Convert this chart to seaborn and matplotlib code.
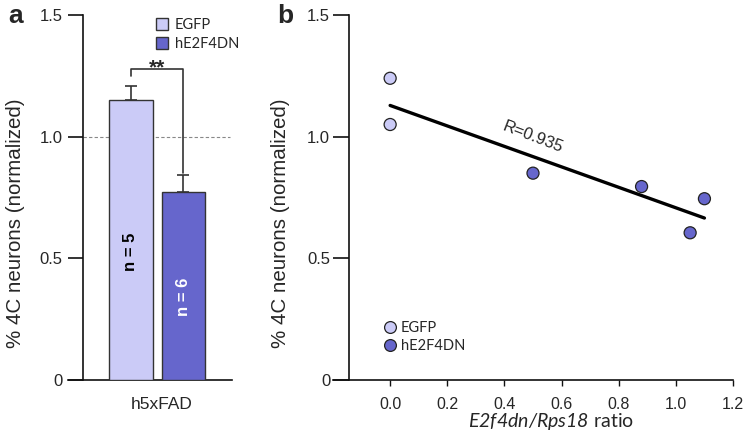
import numpy as np
import pandas as pd
import matplotlib
matplotlib.use("Agg")
import matplotlib.pyplot as plt
from matplotlib.patches import Patch
from matplotlib.lines import Line2D
import seaborn as sns

# データ
groups = ["EGFP", "hE2F4DN"]
bar_means = [1.152, 0.774]
bar_sem = [0.058, 0.070]
n_labels = ["n = 5", "n = 6"]
colors = ["#CBCBF7", "#6666CC"]

ratio_x = [0.0, 0.0, 0.50, 0.88, 1.05, 1.10]
neurons_y = [1.24, 1.05, 0.85, 0.795, 0.605, 0.745]
point_group = ["EGFP", "EGFP", "hE2F4DN", "hE2F4DN", "hE2F4DN", "hE2F4DN"]

y_ticks = [0, 0.5, 1.0, 1.5]
y_ticklabels = ["0", "0.5", "1.0", "1.5"]
x_ticks_b = [0.0, 0.2, 0.4, 0.6, 0.8, 1.0, 1.2]

sns.set_style("ticks")
plt.rcParams["font.family"] = ["Liberation Sans", "DejaVu Sans"]
# x軸ラベルの遺伝子名はイタリック
plt.rcParams["mathtext.fontset"] = "custom"
plt.rcParams["mathtext.it"] = "Lato:italic"
plt.rcParams["mathtext.rm"] = "Lato:italic"

palette = dict(zip(groups, colors))
edge = "#333333"

W, H = 749, 442
fig = plt.figure(figsize=(W / 100, H / 100), dpi=100)

def px_axes(x0, x1, y_top, y_bot):
    return fig.add_axes([x0 / W, 1 - y_bot / H, (x1 - x0) / W, (y_bot - y_top) / H])

# ---------- パネル a ----------
axa = px_axes(68, 232, 15, 380)
df_a = pd.DataFrame({"cond": ["h5xFAD"] * 2, "group": groups, "val": bar_means})
sns.barplot(data=df_a, x="cond", y="val", hue="group", palette=palette, saturation=1,
            errorbar=None, gap=0.17, edgecolor=edge, linewidth=1.0,
            legend=False, ax=axa, zorder=3)

centers = [p.get_x() + p.get_width() / 2 for p in axa.patches[:2]]
axa.errorbar(centers, bar_means, yerr=[[0, 0], bar_sem], fmt="none",
             ecolor=edge, elinewidth=1.2, capsize=4, capthick=1.2, zorder=2)

axa.set_xlim(-0.68, 0.57)
axa.set_ylim(0, 1.5)
axa.spines["left"].set_position(("data", -0.566))
axa.spines[["top", "right"]].set_visible(False)
for s in ["left", "bottom"]:
    axa.spines[s].set_linewidth(1.2)
    axa.spines[s].set_color("#111111")
axa.set_yticks(y_ticks, y_ticklabels)
axa.tick_params(axis="y", length=11, width=1.2, labelsize=12, pad=3.5, color="#111111")
axa.set_xticks([0.035], ["h5xFAD"])
axa.tick_params(axis="x", length=0, labelsize=12.5, pad=12)
axa.set_xlabel("")
axa.set_ylabel("% 4C neurons (normalized)", fontsize=14.8)
axa.yaxis.set_label_coords(-0.262, 0.43)

# 点線 (1.0)
axa.plot([-0.566, 0.554], [1.0, 1.0], color="#888888", lw=0.8, ls=(0, (3, 2)), zorder=1)

# n のラベル
axa.text(centers[0], 0.527, n_labels[0], rotation=90, ha="center", va="center",
         fontsize=12, fontweight="bold", color="black", zorder=4)
axa.text(centers[1], 0.342, n_labels[1], rotation=90, ha="center", va="center",
         fontsize=12, fontweight="bold", color="white", zorder=4)

# 有意差
axa.plot([centers[0], centers[0], centers[1], centers[1]], [1.25, 1.28, 1.28, 0.85],
         color=edge, lw=1.2, zorder=4)
axa.text(sum(centers) / 2, 1.26, "**", ha="center", va="baseline", fontsize=15, fontweight="bold")

axa.legend(handles=[Patch(facecolor=c, edgecolor=edge, lw=1.0, label=g) for g, c in zip(groups, colors)],
           loc="upper left", bbox_to_anchor=(156 / W, 1 - 18 / H), bbox_transform=fig.transFigure,
           frameon=False, borderpad=0, borderaxespad=0, handlelength=0.8, handleheight=0.8,
           handletextpad=0.5, labelspacing=0.35, prop={"family": "Lato", "size": 10.5})

# ---------- パネル b ----------
axb = px_axes(333, 733, 15, 380)
df_b = pd.DataFrame({"x": ratio_x, "y": neurons_y, "group": point_group})
sns.regplot(data=df_b, x="x", y="y", scatter=False, ci=None, color="black",
            line_kws={"lw": 2.4}, ax=axb)
sns.scatterplot(data=df_b, x="x", y="y", hue="group", palette=palette, s=75,
                edgecolor="#222222", linewidth=0.9, legend=False, ax=axb, zorder=3)

axb.set_xlim(-0.2, 1.2)
axb.set_ylim(0, 1.5)
axb.spines["left"].set_position(("data", -0.144))
axb.spines[["top", "right"]].set_visible(False)
for s in ["left", "bottom"]:
    axb.spines[s].set_linewidth(1.2)
    axb.spines[s].set_color("#111111")
axb.set_yticks(y_ticks, y_ticklabels)
axb.tick_params(axis="y", length=11.5, width=1.2, labelsize=12, pad=2, color="#111111")
axb.set_xticks(x_ticks_b, [f"{v:.1f}" for v in x_ticks_b])
axb.tick_params(axis="x", length=4.5, width=1.0, labelsize=11.5, pad=8, color="#111111")
axb.set_ylabel("% 4C neurons (normalized)", fontsize=14.8)
axb.yaxis.set_label_coords(-0.1075, 0.43)
axb.set_xlabel(r"$E2f4dn/Rps18$ ratio", fontsize=14, fontfamily="Lato")
axb.xaxis.set_label_coords(0.545, -0.085)

axb.text(0.5, 1.0, "R=0.935", rotation=-21, ha="center", va="center", fontsize=12)

axb.legend(handles=[Line2D([], [], marker="o", ls="", markersize=8.5, markerfacecolor=c,
                           markeredgecolor="#222222", markeredgewidth=0.9, label=g)
                    for g, c in zip(groups, colors)],
           loc="upper left", bbox_to_anchor=(383 / W, 1 - 321 / H), bbox_transform=fig.transFigure,
           frameon=False, borderpad=0, borderaxespad=0, handlelength=0.9, handletextpad=0.3,
           labelspacing=0.3, prop={"family": "Lato", "size": 10.5})

fig.text(8 / W, 1 - 23 / H, "a", fontsize=19, fontweight="bold", va="baseline")
fig.text(277 / W, 1 - 23 / H, "b", fontsize=19, fontweight="bold", va="baseline")

fig.savefig("out.png", dpi=100)
